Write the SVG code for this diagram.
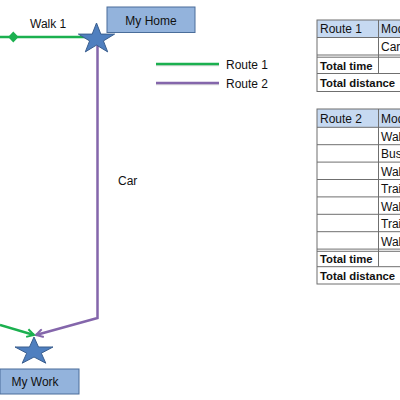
<svg xmlns="http://www.w3.org/2000/svg" width="400" height="400" viewBox="0 0 400 400">
<defs>
<style>
text{font-family:"Liberation Sans",Arial,sans-serif;font-size:12px;fill:#111}
.b{font-weight:bold;font-size:11.3px}
.box{fill:#93B3DC;stroke:#4A6D9A;stroke-width:1}
.star{fill:#4F7FBF;stroke:#3A5E8E;stroke-width:1}
.grid{stroke:#6f6f6f;stroke-width:1;fill:none}
.hdr{fill:#C6D9F1}
.g{stroke:#1BB04F;stroke-width:2.5;fill:none}
.p{stroke:#8466AB;stroke-width:2.5;fill:none}
</style>
<marker id="ag" markerWidth="10" markerHeight="10" refX="8" refY="5" orient="auto" markerUnits="userSpaceOnUse">
<polyline points="1,1 8,5 1,9" fill="none" stroke="#1BB04F" stroke-width="2"/>
</marker>
<marker id="ap" markerWidth="10" markerHeight="10" refX="8" refY="5" orient="auto" markerUnits="userSpaceOnUse">
<polyline points="1,1 8,5 1,9" fill="none" stroke="#8466AB" stroke-width="2"/>
</marker>
</defs>
<g id="connectors">
<line class="g" x1="0" y1="37" x2="90" y2="37"/>
<polygon points="13.3,31.5 18.5,37 13.3,42.5 8.1,37" fill="#1BB04F"/>
<polyline class="p" points="97.5,44 97.5,318 36,335" marker-end="url(#ap)"/>
<line class="g" x1="0" y1="325" x2="34" y2="335" marker-end="url(#ag)"/>
<text x="30" y="28">Walk 1</text>
<text x="118" y="185">Car</text>
</g>
<g id="home">
<rect class="box" x="107" y="7" width="88" height="25.5"/>
<text x="151" y="24.5" text-anchor="middle">My Home</text>
<polygon class="star" points="96.5,23 100.8,34.1 114.6,34.1 103.4,40.9 107.7,51.9 96.5,45.1 85.3,51.9 89.6,40.9 78.4,34.1 92.2,34.1"/>
</g>
<g id="work">
<polygon class="star" points="34,337 38.5,347 53,347 41.3,353.2 45.8,363.2 34,357 22.2,363.2 26.7,353.2 15,347 29.5,347"/>
<rect class="box" x="0" y="369" width="79" height="25"/>
<text x="35" y="386" text-anchor="middle">My Work</text>
</g>
<g id="legend">
<line x1="156" y1="65" x2="219" y2="65" stroke="#999" stroke-width="2.5" opacity="0.35"/>
<line class="g" x1="156" y1="64" x2="219" y2="64"/>
<line x1="156" y1="84" x2="219" y2="84" stroke="#999" stroke-width="2.5" opacity="0.35"/>
<line class="p" x1="156" y1="83" x2="219" y2="83"/>
<text x="226" y="68.5">Route 1</text>
<text x="226" y="87.5">Route 2</text>
</g>
<g id="table1">
<rect class="hdr" x="317" y="20" width="90" height="17.5"/>
<rect class="grid" x="317" y="20" width="90" height="71.5"/>
<line class="grid" x1="317" y1="37.5" x2="407" y2="37.5"/>
<line class="grid" x1="317" y1="55" x2="407" y2="55"/>
<line class="grid" x1="317" y1="57.2" x2="407" y2="57.2"/>
<line class="grid" x1="317" y1="73.5" x2="407" y2="73.5"/>
<line class="grid" x1="378.5" y1="20" x2="378.5" y2="73.5"/>
<text x="320" y="33">Route 1</text>
<text x="381" y="33">Mode</text>
<text x="381" y="51">Car</text>
<text class="b" x="320" y="69.5">Total time</text>
<text class="b" x="320" y="87">Total distance</text>
</g>
<g id="table2">
<rect class="hdr" x="317" y="109" width="90" height="18.3"/>
<rect class="grid" x="317" y="109" width="90" height="175"/>
<line class="grid" x1="317" y1="127.3" x2="407" y2="127.3"/>
<line class="grid" x1="317" y1="144.7" x2="407" y2="144.7"/>
<line class="grid" x1="317" y1="162.1" x2="407" y2="162.1"/>
<line class="grid" x1="317" y1="179.5" x2="407" y2="179.5"/>
<line class="grid" x1="317" y1="196.9" x2="407" y2="196.9"/>
<line class="grid" x1="317" y1="214.3" x2="407" y2="214.3"/>
<line class="grid" x1="317" y1="231.7" x2="407" y2="231.7"/>
<line class="grid" x1="317" y1="249.1" x2="407" y2="249.1"/>
<line class="grid" x1="317" y1="251.3" x2="407" y2="251.3"/>
<line class="grid" x1="317" y1="266.7" x2="407" y2="266.7"/>
<line class="grid" x1="378.5" y1="109" x2="378.5" y2="266.7"/>
<text x="320" y="122.5">Route 2</text>
<text x="381" y="122.5">Mode</text>
<text x="381" y="140.5">Walk</text>
<text x="381" y="158">Bus</text>
<text x="381" y="175.5">Walk</text>
<text x="381" y="193">Train</text>
<text x="381" y="210.5">Walk</text>
<text x="381" y="228">Train</text>
<text x="381" y="245.5">Walk</text>
<text class="b" x="320" y="263">Total time</text>
<text class="b" x="320" y="280">Total distance</text>
</g>
</svg>
